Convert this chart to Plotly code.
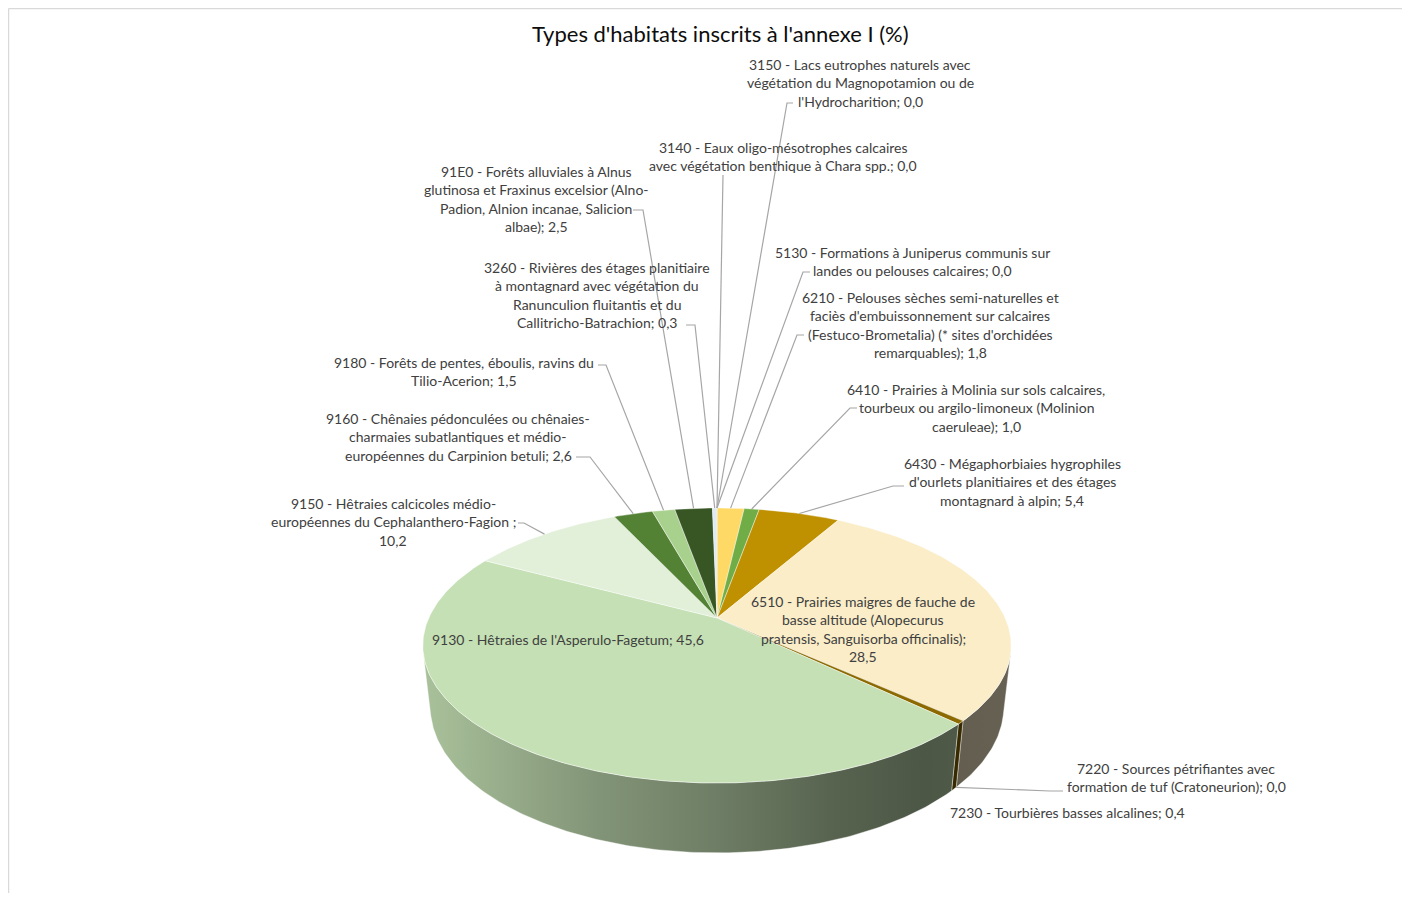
import numpy as np
import plotly.graph_objects as go

# ---------------- data ----------------
codes = ["3150", "3140", "5130", "6210", "6410", "6430", "6510", "7220",
         "7230", "9130", "9150", "9160", "9180", "91E0", "3260"]
values = [0.0, 0.0, 0.0, 1.8, 1.0, 5.4, 28.5, 0.0,
          0.4, 45.6, 10.2, 2.6, 1.5, 2.5, 0.3]
label_lines = [
    ["3150 - Lacs eutrophes naturels avec", "végétation du Magnopotamion ou de", "l'Hydrocharition; {v}"],
    ["3140 - Eaux oligo-mésotrophes calcaires", "avec végétation benthique à Chara spp.; {v}"],
    ["5130 - Formations à Juniperus communis sur", "landes ou pelouses calcaires; {v}"],
    ["6210 - Pelouses sèches semi-naturelles et", "faciès d'embuissonnement sur calcaires",
     "(Festuco-Brometalia) (* sites d'orchidées", "remarquables); {v}"],
    ["6410 - Prairies à Molinia sur sols calcaires,", "tourbeux ou argilo-limoneux (Molinion", "caeruleae); {v}"],
    ["6430 - Mégaphorbiaies hygrophiles", "d'ourlets planitiaires et des étages", "montagnard à alpin; {v}"],
    ["6510 - Prairies maigres de fauche de", "basse altitude (Alopecurus",
     "pratensis, Sanguisorba officinalis);", "{v}"],
    ["7220 - Sources pétrifiantes avec", "formation de tuf (Cratoneurion); {v}"],
    ["7230 - Tourbières basses alcalines; {v}"],
    ["9130 - Hêtraies de l'Asperulo-Fagetum; {v}"],
    ["9150 - Hêtraies calcicoles médio-", "européennes du Cephalanthero-Fagion ;", "{v}"],
    ["9160 - Chênaies pédonculées ou chênaies-", "charmaies subatlantiques et médio-",
     "européennes du Carpinion betuli; {v}"],
    ["9180 - Forêts de pentes, éboulis, ravins du", "Tilio-Acerion; {v}"],
    ["91E0 - Forêts alluviales à Alnus", "glutinosa et Fraxinus excelsior (Alno-",
     "Padion, Alnion incanae, Salicion", "albae); {v}"],
    ["3260 - Rivières des étages planitiaire", "à montagnard avec végétation du",
     "Ranunculion fluitantis et du", "Callitricho-Batrachion; {v}"],
]
title_text = "Types d'habitats inscrits à l'annexe I (%)"

# ---------------- style ----------------
colors = ["#BDD7EE", "#9DC3E6", "#F4B183", "#FFD966", "#70AD47", "#BF9000", "#FAEDC8", "#7F6000",
          "#8C6A00", "#C5E0B4", "#E2F0D9", "#548235", "#A9D18E", "#375623", "#DEEBF7"]
# label placement: centre x, first line y (page pixels)
label_cx = [860, 783, 912, 930, 976, 1012, 863, 1176, 1067, 568, 393, 458, 464, 536, 597]
label_y0 = [64, 147, 252, 297, 389, 463, 601, 768, 812, 639, 503, 418, 362, 171, 267]
# leader: start point, elbow point, anchor on the pie ('top' rim, 'bottom' rim or None)
leader_start = [(793, 103), (723, 175), (810, 272), (804, 335), (857, 408), (904, 486), None, (1063, 791),
                None, None, (518, 523), (576, 457), (598, 365), (633, 210), (686, 325)]
leader_elbow = [(787, 103), (723, 175), (803, 272), (797, 335), (850, 408), (893, 486), None, (1050, 791),
                None, None, (524, 523), (590, 457), (606, 365), (643, 210), (695, 325)]
leader_anchor = ["top", "top", "top", "top", "top", "top", None, "bottom",
                 None, None, "top", "top", "top", "top", "top"]

FONT = "Lato"
TEXT_COLOR = "#404040"
LABEL_SIZE = 14
TITLE_SIZE = 22
LINE_STEP = 18.5

# page offset (body margin) and figure size
OX, OY = 8, 8
W, H_FIG = 1394, 885

# 3D pie geometry (perspective projection)
CX, CY = 717.0, 618.0
sA = 0.458
cA = float(np.sqrt(1 - sA ** 2))
DCAM = 5 * cA
FOC = 660 * cA / sA
DEPTH = 0.241


def proj(phi, z):
    phi = np.asarray(phi, dtype=float)
    X = np.sin(phi)
    Y = np.cos(phi)
    pv = Y * sA + z * cA
    pu = -Y * cA + z * sA
    d = DCAM - pu
    return CX + FOC * X / d, CY - FOC * pv / d


def hex2rgb(h):
    h = h.lstrip("#")
    return tuple(int(h[i:i + 2], 16) for i in (0, 2, 4))


def shade(h, f):
    r, g, b = hex2rgb(h)
    return "rgb(%d,%d,%d)" % (round(r * f), round(g * f), round(b * f))


def fmt(v):
    return ("%.1f" % v).replace(".", ",")


vals = np.array(values, dtype=float)
total = vals.sum()
cum = np.concatenate([[0.0], np.cumsum(vals)])
starts = cum[:-1] / total * 2 * np.pi
ends = cum[1:] / total * 2 * np.pi
mids = (starts + ends) / 2

fig = go.Figure()

# ---- side walls (front-facing part only) ----
phi_a = float(np.arccos(-1.0 / (DCAM * cA)))
phi_b = 2 * np.pi - phi_a
xa, _ = proj(phi_a, 0.0)
xb, _ = proj(phi_b, 0.0)
x_left, x_right = float(min(xa, xb)), float(max(xa, xb))
shade_stops = [(0.0, 0.86), (0.3, 0.66), (0.5, 0.56), (0.7, 0.44), (0.85, 0.39), (1.0, 0.41)]
for i in range(len(vals)):
    if vals[i] <= 0:
        continue
    lo = max(starts[i], phi_a)
    hi = min(ends[i], phi_b)
    if hi <= lo:
        continue
    ph = np.linspace(lo, hi, max(4, int((hi - lo) * 80)))
    tx, ty = proj(ph, 0.0)
    bx, by = proj(ph[::-1], -DEPTH)
    xs = np.concatenate([tx, bx, tx[:1]])
    ys = np.concatenate([ty, by, ty[:1]])
    fig.add_trace(go.Scatter(
        x=xs, y=ys, mode="lines", fill="toself",
        line=dict(color="rgba(255,255,255,0.55)", width=0.7),
        fillgradient=dict(type="horizontal", start=x_left, stop=x_right,
                          colorscale=[[t, shade(colors[i], f)] for t, f in shade_stops]),
        hoverinfo="skip", showlegend=False))

# ---- top faces ----
for i in range(len(vals)):
    if vals[i] <= 0:
        continue
    ph = np.linspace(starts[i], ends[i], max(3, int((ends[i] - starts[i]) * 80)))
    rx, ry = proj(ph, 0.0)
    xs = np.concatenate([[CX], rx, [CX]])
    ys = np.concatenate([[CY], ry, [CY]])
    fig.add_trace(go.Scatter(
        x=xs, y=ys, mode="lines", fill="toself", fillcolor=colors[i],
        line=dict(color="rgba(255,255,255,0.6)", width=0.7),
        hoverinfo="skip", showlegend=False))

# ---- leader lines ----
for i in range(len(vals)):
    if leader_anchor[i] is None:
        continue
    z = 0.0 if leader_anchor[i] == "top" else -DEPTH
    ax, ay = proj(mids[i], z)
    (sx, sy), (ex, ey) = leader_start[i], leader_elbow[i]
    fig.add_trace(go.Scatter(
        x=[sx, ex, float(ax)], y=[sy, ey, float(ay)], mode="lines",
        line=dict(color="#A6A6A6", width=1.2),
        hoverinfo="skip", showlegend=False))

# ---- labels ----
annotations = []
for i in range(len(vals)):
    for k, line in enumerate(label_lines[i]):
        annotations.append(dict(
            x=label_cx[i], y=label_y0[i] + k * LINE_STEP, xref="x", yref="y",
            text=line.replace("{v}", fmt(values[i])), showarrow=False,
            xanchor="center", yanchor="middle",
            font=dict(family=FONT, size=LABEL_SIZE, color=TEXT_COLOR)))
annotations.append(dict(
    x=720, y=33, xref="x", yref="y", text=title_text, showarrow=False,
    xanchor="center", yanchor="middle",
    font=dict(family=FONT, size=TITLE_SIZE, color="#0D0D0D")))

fig.update_layout(
    width=W, height=H_FIG,
    margin=dict(l=0, r=0, t=0, b=0),
    paper_bgcolor="white", plot_bgcolor="white",
    xaxis=dict(range=[OX, OX + W], visible=False, fixedrange=True),
    yaxis=dict(range=[OY + H_FIG, OY], visible=False, fixedrange=True),
    annotations=annotations,
    shapes=[
        dict(type="line", xref="x", yref="y", x0=OX + 0.5, y0=OY + 0.5, x1=OX + W, y1=OY + 0.5,
             line=dict(color="#D9D9D9", width=1.5)),
        dict(type="line", xref="x", yref="y", x0=OX + 0.5, y0=OY + 0.5, x1=OX + 0.5, y1=OY + H_FIG,
             line=dict(color="#D9D9D9", width=1.5)),
    ],
)

fig.write_html("out.html", config={"displayModeBar": False})
